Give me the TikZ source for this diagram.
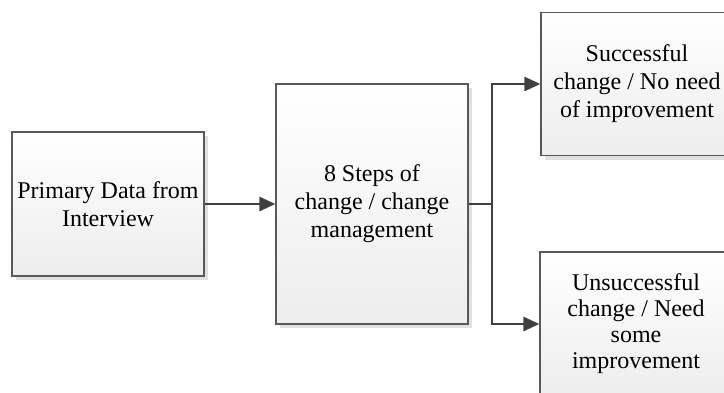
\documentclass[tikz,border=0pt]{standalone}
\usepackage{fontspec}
\setmainfont{Liberation Serif}
\usetikzlibrary{arrows.meta,shadows}
\begin{document}
\begin{tikzpicture}[x=1pt,y=-1pt,
  caja/.style={draw=black!65, line width=1.2pt, top color=white, bottom color=black!7,
    drop shadow={shadow xshift=4pt, shadow yshift=-4pt, fill=black!12, opacity=1},
    minimum width=192pt, align=center, inner sep=0pt,
    font=\fontsize{24}{28}\selectfont},
  linea/.style={draw=black!75, line width=2.6pt},
  flecha/.style={linea, -{Triangle[length=16pt,width=14pt]}}]
% Marco de la figura
\clip (0,0) rectangle (724,392);

% Cajas
\node[caja, minimum height=144pt] (prim) at (108,204) {Primary Data from\\Interview};
\node[caja, minimum height=240pt] (steps) at (372,204) {8 Steps of\\change / change\\management};
\node[caja, minimum height=143pt] (succ) at (637,84) {Successful\\change / No need\\of improvement};
\node[caja, minimum height=144pt, font=\fontsize{24}{26}\selectfont] (unsucc) at (636,324)
  {Unsuccessful\\change / Need\\some\\improvement};

% Conexiones
\coordinate (rama) at (492,204);
\draw[flecha] (prim) -- (steps);
\draw[linea] (steps) -- (rama);
\draw[flecha] (rama) |- (succ);
\draw[flecha] (rama) |- (unsucc);
\end{tikzpicture}
\end{document}
